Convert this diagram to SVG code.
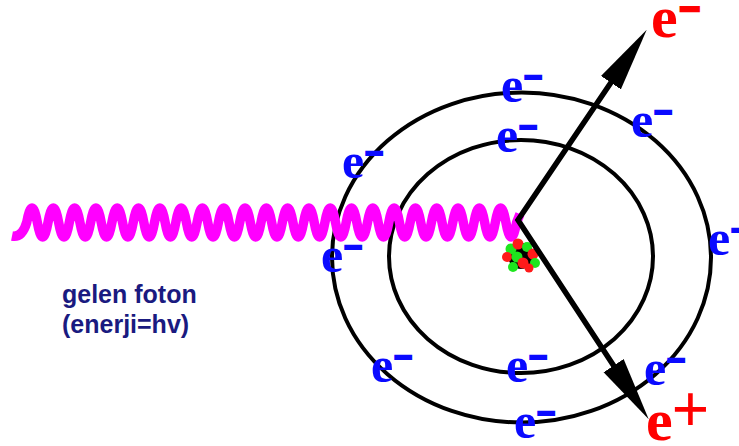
<svg xmlns="http://www.w3.org/2000/svg" width="739" height="446" viewBox="0 0 739 446">
  <defs>
    <style>
      .orbit { fill: none; stroke: #000; stroke-width: 4; }
      .el { font-family: "Liberation Serif", "Times New Roman", serif; font-weight: bold; font-size: 50px; fill: #0a0aff; }
      .el .mn { font-family: "Liberation Sans", Arial, sans-serif; font-size: 32px; stroke: #0a0aff; stroke-width: 2; }
      .pair { font-family: "Liberation Serif", "Times New Roman", serif; font-weight: bold; font-size: 60px; fill: #ff0000; }
      .pair .mn { font-family: "Liberation Sans", Arial, sans-serif; font-size: 36px; stroke: #ff0000; stroke-width: 2.5; }
      .pair .pl { font-family: "Liberation Sans", Arial, sans-serif; font-weight: normal; font-size: 64px; }
      .caption { font-family: "Liberation Sans", Arial, sans-serif; font-weight: bold; font-size: 25px; fill: #1a1a80; }
      .track { fill: none; stroke: #000; stroke-width: 5.5; stroke-linejoin: miter; stroke-miterlimit: 10; }
      .red { fill: #ff1a1a; }
      .grn { fill: #1ee61e; }
    </style>
    <marker id="head" markerUnits="userSpaceOnUse" markerWidth="66" markerHeight="26" refX="2" refY="12" orient="auto-start-reverse" viewBox="0 0 66 24">
      <path d="M0,0 L64,12 L0,24 Z" fill="#000"/>
    </marker>
  </defs>

  <!-- electron shells -->
  <g id="orbits">
    <ellipse id="outer-shell" class="orbit" cx="521.5" cy="257.5" rx="189.5" ry="165"/>
    <ellipse id="inner-shell" class="orbit" cx="521" cy="256.5" rx="132" ry="116.5"/>
  </g>

  <!-- incoming photon -->
  <g id="photon">
    <path fill="none" stroke="#ff00ff" stroke-width="9.5" stroke-linecap="butt"
      d="M12,236 Q22,238 26.7,222.5 q5.33,-29 10.65,0 t10.65,0 t10.65,0 t10.65,0 t10.65,0 t10.65,0 t10.65,0 t10.65,0 t10.65,0 t10.65,0 t10.65,0 t10.65,0 t10.65,0 t10.65,0 t10.65,0 t10.65,0 t10.65,0 t10.65,0 t10.65,0 t10.65,0 t10.65,0 t10.65,0 t10.65,0 t10.65,0 t10.65,0 t10.65,0 t10.65,0 t10.65,0 t10.65,0 t10.65,0 t10.65,0 t10.65,0 t10.65,0 t10.65,0 t10.65,0 t10.65,0 t10.65,0 t10.65,0 t10.65,0 t10.65,0 t10.65,0 t10.65,0 t10.65,0 t10.65,0 t10.65,0 t10.65,0 L520,214"/>
  </g>

  <!-- nucleus -->
  <g id="nucleus">
    <circle cx="521" cy="256" r="13" fill="#000"/>
    <circle class="grn" cx="511" cy="249" r="5.5"/>
    <circle class="red" cx="518" cy="244" r="5.5"/>
    <circle class="grn" cx="527" cy="247" r="5"/>
    <circle class="red" cx="533" cy="254" r="5.5"/>
    <circle class="red" cx="507" cy="257" r="5"/>
    <circle class="grn" cx="517" cy="257" r="5.5"/>
    <circle class="red" cx="523" cy="263" r="5.5"/>
    <circle class="grn" cx="535" cy="263" r="5"/>
    <circle class="red" cx="529" cy="268" r="4.5"/>
    <circle class="grn" cx="513" cy="267" r="5"/>
  </g>

  <!-- pair-production tracks -->
  <g id="connectors">
    <path class="track" marker-start="url(#head)" marker-end="url(#head)"
      d="M612,81 L518,220 L614.7,367.3"/>
  </g>

  <!-- bound electrons -->
  <g id="electrons">
    <text class="el" x="501" y="102">e<tspan class="mn" dx="1" dy="-16">–</tspan></text>
    <text class="el" x="496" y="152">e<tspan class="mn" dx="1" dy="-16">–</tspan></text>
    <text class="el" x="342" y="178">e<tspan class="mn" dx="1" dy="-16">–</tspan></text>
    <text class="el" x="631" y="137">e<tspan class="mn" dx="1" dy="-16">–</tspan></text>
    <text class="el" x="708" y="255">e<tspan class="mn" dx="1" dy="-16">–</tspan></text>
    <text class="el" x="321" y="272">e<tspan class="mn" dx="1" dy="-16">–</tspan></text>
    <text class="el" x="371" y="382">e<tspan class="mn" dx="1" dy="-16">–</tspan></text>
    <text class="el" x="506" y="382">e<tspan class="mn" dx="1" dy="-16">–</tspan></text>
    <text class="el" x="514" y="438">e<tspan class="mn" dx="1" dy="-16">–</tspan></text>
    <text class="el" x="644" y="385">e<tspan class="mn" dx="1" dy="-16">–</tspan></text>
  </g>

  <!-- created pair -->
  <g id="pair">
    <text id="electron-out" class="pair" x="651" y="37">e<tspan class="mn" dx="2" dy="-18">–</tspan></text>
    <text id="positron-out" class="pair" x="646" y="440">e<tspan class="pl" dx="-1" dy="-9">+</tspan></text>
  </g>

  <!-- caption -->
  <g id="caption">
    <text class="caption" x="62" y="303">gelen foton</text>
    <text class="caption" x="62" y="333">(enerji=hv)</text>
  </g>
</svg>
